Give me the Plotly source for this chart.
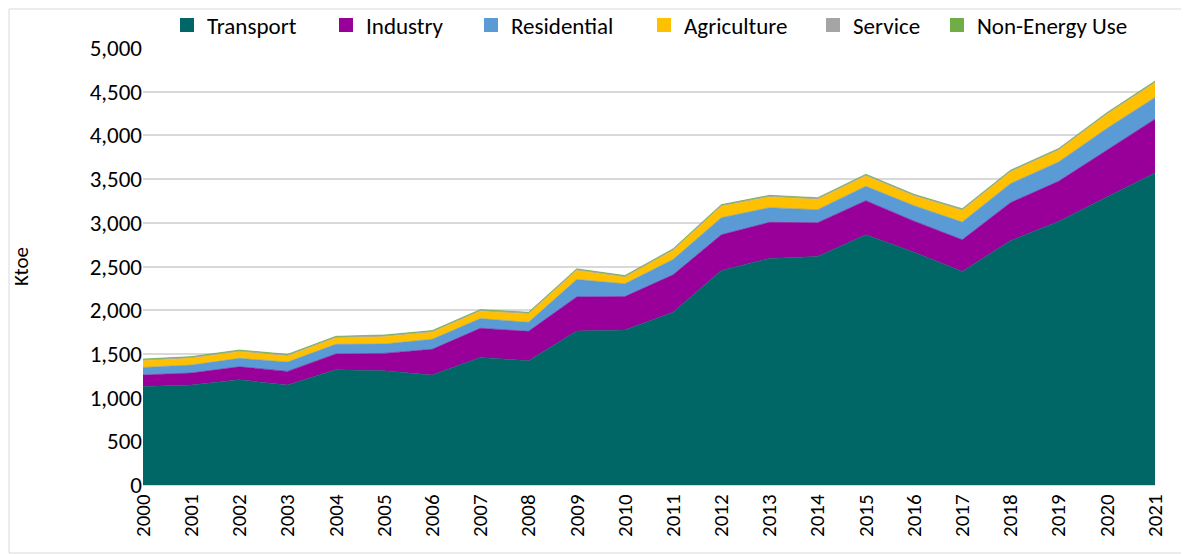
import plotly.graph_objects as go

years = list(range(2000, 2022))
transport = [1127, 1143, 1204, 1143, 1319, 1307, 1258, 1460, 1422, 1762, 1774, 1976,
             2454, 2592, 2615, 2863, 2664, 2443, 2795, 3016, 3295, 3570]
industry = [131, 138, 149, 157, 180, 199, 294, 333, 336, 390, 382, 429,
            409, 413, 386, 390, 355, 363, 435, 459, 535, 616]
residential = [87, 91, 96, 107, 110, 107, 115, 111, 103, 199, 146, 175,
               195, 168, 149, 164, 177, 202, 218, 221, 249, 248]
agriculture = [77, 77, 76, 69, 73, 84, 80, 83, 96, 103, 75, 103,
               130, 122, 118, 119, 110, 134, 134, 134, 161, 168]
service = [12, 12, 12, 12, 12, 12, 12, 12, 12, 12, 12, 12,
           12, 12, 12, 12, 12, 12, 12, 12, 12, 12]
non_energy = [8, 8, 8, 8, 8, 8, 8, 8, 8, 8, 8, 8,
              8, 8, 8, 8, 8, 8, 8, 8, 8, 8]

names = ["Transport", "Industry", "Residential", "Agriculture", "Service", "Non-Energy Use"]
values = [transport, industry, residential, agriculture, service, non_energy]
colors = ["#006666", "#990099", "#5B9BD5", "#FFC000", "#A5A5A5", "#70AD47"]
# page x where each legend label's text begins (layout only)
legend_text_x = [209, 368, 513, 686, 855, 979]

FONT = "Carlito, Lato, sans-serif"

# page has an 8px body margin; compensate so the plot area sits where the original does
OFF = 8
W, H = 1189 - OFF, 554 - OFF
ml, mt = 143 - OFF, 48 - OFF
mr = W - (1155 - OFF)
mb = H - (485 - OFF)
pw, ph = W - ml - mr, H - mt - mb

fig = go.Figure()
for name, vals, col in zip(names, values, colors):
    fig.add_trace(go.Scatter(
        x=years, y=vals, name=name, mode="lines",
        stackgroup="one", line=dict(color=col, width=0.6),
        fillcolor=col, showlegend=False, legendgroup=name,
    ))

legends = {}
for i, (name, col, tx) in enumerate(zip(names, colors, legend_text_x)):
    key = "legend" if i == 0 else f"legend{i + 1}"
    fig.add_trace(go.Scatter(
        x=[None], y=[None], name=name, mode="markers", legendgroup=name,
        legend=key, marker=dict(symbol="square", size=14, color=col),
    ))
    left_page = tx - 42
    legends[key] = dict(
        x=(left_page - OFF - ml) / pw, xanchor="left",
        y=1 + (48 - 25) / ph, yanchor="middle",
        font=dict(size=23), itemwidth=30, bgcolor="rgba(0,0,0,0)",
        orientation="h",
    )

fig.update_layout(
    width=W, height=H,
    margin=dict(l=ml, r=mr, t=mt, b=mb, autoexpand=False),
    paper_bgcolor="white", plot_bgcolor="white",
    font=dict(family=FONT, size=22, color="#000000"),
    showlegend=True,
    xaxis=dict(range=[2000, 2021], tickmode="array", tickvals=years,
               ticktext=[str(y) for y in years], tickangle=-90,
               showgrid=False, zeroline=False, showline=True, linecolor="#D9D9D9",
               linewidth=1, ticks="", tickfont=dict(size=21)),
    yaxis=dict(range=[0, 5000], dtick=500, tickformat=",", showgrid=True,
               gridcolor="#D9D9D9", gridwidth=2, zeroline=False, showline=False,
               ticks="", tickfont=dict(size=23),
               title=dict(text="Ktoe", font=dict(size=21), standoff=62)),
    shapes=[dict(type="rect", xref="paper", yref="paper",
                 x0=-(ml - 1) / pw, x1=1 + (mr - 2) / pw,
                 y0=-(mb - 1) / ph, y1=1 + (mt - 1) / ph,
                 line=dict(color="#D9D9D9", width=1), fillcolor="rgba(0,0,0,0)",
                 layer="below")],
    **legends,
)

fig.write_html("out.html")
